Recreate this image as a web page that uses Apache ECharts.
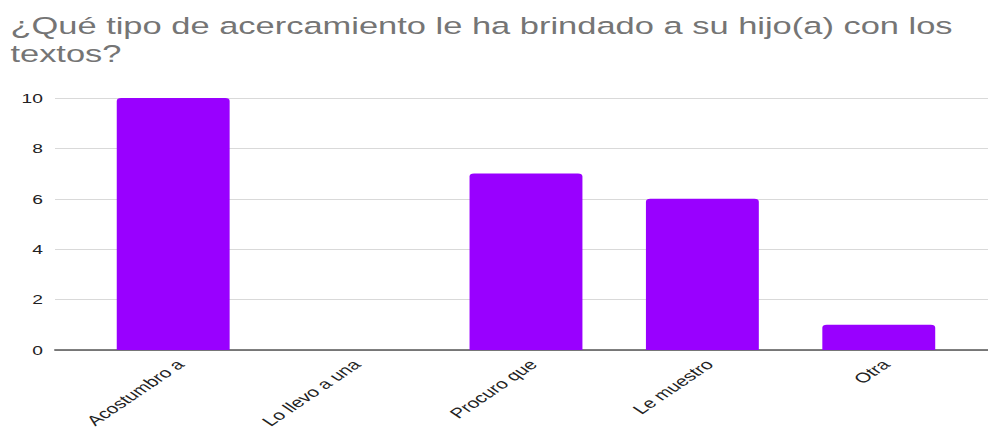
<!DOCTYPE html>
<html><head><meta charset="utf-8">
<script src="https://cdn.jsdelivr.net/npm/echarts@6/dist/echarts.min.js"></script>
<style>html,body{margin:0;padding:0;background:#fff;overflow:hidden}
#c{width:668px;height:434px;transform:scaleX(1.479);transform-origin:0 0}</style>
</head><body><div id="c"></div>
<script>
const titleText = "¿Qué tipo de acercamiento le ha brindado a su hijo(a) con los\ntextos?";
const categories = ["Acostumbro a", "Lo llevo a una", "Procuro que", "Le muestro", "Otra"];
const values = [10, 0, 7, 6, 1];
const yTicks = [0, 2, 4, 6, 8, 10];

const S = 1.479;
const chart = echarts.init(document.getElementById('c'), null, {renderer: 'svg'});
const font = "Liberation Sans, Arial, sans-serif";
chart.setOption({
  animation: false,
  backgroundColor: '#fff',
  title: {
    text: titleText, left: 3 / S, top: 7,
    textStyle: {fontFamily: font, fontSize: 23.3, fontWeight: 'normal', color: '#757575', lineHeight: 28}
  },
  grid: [
    {left: 55 / S, right: 0, top: 98, bottom: 84},
    {left: 85 / S, right: 21 / S, top: 98, bottom: 84}
  ],
  xAxis: [
    {gridIndex: 0, type: 'value', min: 0, max: 1,
     axisLine: {show: true, lineStyle: {color: '#555', width: 1.5}}, axisTick: {show: false}, axisLabel: {show: false}, splitLine: {show: false}},
    {gridIndex: 1, type: 'category', data: categories,
     axisLine: {show: false}, axisTick: {show: false},
     axisLabel: {rotate: 45, interval: 0, margin: 17, padding: [0, -7, 0, 0], fontFamily: font, fontSize: 14, color: '#222'}}
  ],
  yAxis: [
    {gridIndex: 0, type: 'value', min: yTicks[0], max: yTicks[yTicks.length-1], interval: 2,
     axisLine: {show: false}, axisTick: {show: false},
     axisLabel: {margin: 12 / S, fontFamily: font, fontSize: 13, color: '#222'},
     splitLine: {lineStyle: {color: '#d9d9d9', width: 1}}},
    {gridIndex: 1, type: 'value', min: yTicks[0], max: yTicks[yTicks.length-1], interval: 2, show: false}
  ],
  series: [{
    type: 'bar', xAxisIndex: 1, yAxisIndex: 1, data: values,
    barCategoryGap: '36%',
    itemStyle: {color: '#9900ff', borderRadius: [3, 3, 0, 0]}
  }]
});
</script></body></html>
